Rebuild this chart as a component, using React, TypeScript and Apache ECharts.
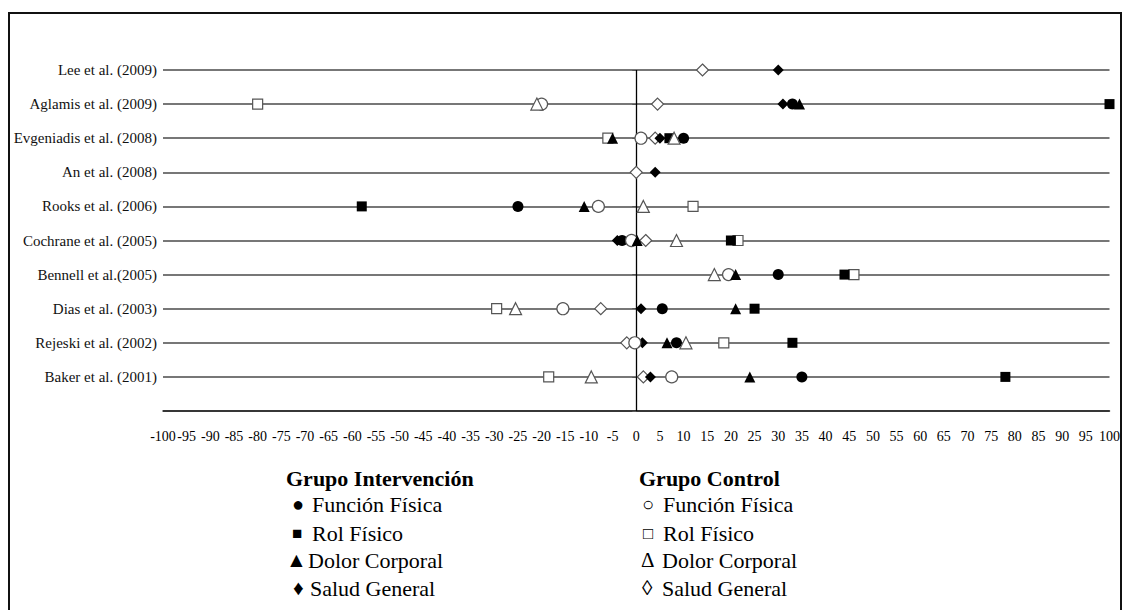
import React, { useEffect, useRef } from "react";
import * as echarts from "echarts";

// Studies, top to bottom
const studies = [
  "Lee et al. (2009)",
  "Aglamis et al. (2009)",
  "Evgeniadis et al. (2008)",
  "An et al. (2008)",
  "Rooks et al. (2006)",
  "Cochrane et al. (2005)",
  "Bennell et al.(2005)",
  "Dias et al. (2003)",
  "Rejeski et al. (2002)",
  "Baker et al. (2001)",
];

// Grupo Intervención (filled markers)
const intFuncionFisica = [null, 33, 10, null, -25, -3, 30, 5.5, 8.5, 35];
const intRolFisico = [null, 100, 7, null, -58, 20, 44, 25, 33, 78];
const intDolorCorporal = [null, 34.5, -5, null, -11, 0.2, 21, 21, 6.5, 24];
const intSaludGeneral = [30, 31, 5, 4, null, -4, null, 1, 1.3, 3];

// Grupo Control (open markers)
const ctlFuncionFisica = [null, -20, 1, null, -8, -1, 19.5, -15.5, -0.3, 7.5];
const ctlRolFisico = [null, -80, -6, null, 12, 21.5, 46, -29.5, 18.5, -18.5];
const ctlDolorCorporal = [null, -21, 8, null, 1.5, 8.5, 16.5, -25.5, 10.5, -9.5];
const ctlSaludGeneral = [14, 4.5, 4, 0, null, 2, null, -7.5, -2, 1.5];

// Legend texts
const legendIntTitle = "Grupo Intervención";
const legendCtlTitle = "Grupo Control";
const legendLabels = ["Función Física", "Rol Físico", "Dolor Corporal", "Salud General"];
const legendIntGlyphs = ["●", "■", "▲", "♦"];
const legendCtlGlyphs = ["○", "□", "Δ", "◊"];

const SERIF = "'Liberation Serif', 'Times New Roman', Times, serif";

function toPoints(values: (number | null)[]) {
  const n = studies.length;
  const out: [number, number][] = [];
  values.forEach((v, i) => {
    if (v !== null && v !== undefined) out.push([v, n - i]);
  });
  return out;
}

export default function App() {
  const ref = useRef<HTMLDivElement>(null);

  useEffect(() => {
    if (!ref.current) return;
    const chart = echarts.init(ref.current, undefined, { renderer: "svg" });

    const filled = (name: string, values: (number | null)[], symbol: string, size: number) => ({
      name,
      type: "scatter",
      data: toPoints(values),
      symbol,
      symbolSize: size,
      itemStyle: { color: "#000", opacity: 1 },
      emphasis: { disabled: true },
      z: 3,
    });
    const hollow = (name: string, values: (number | null)[], symbol: string, size: number) => ({
      name,
      type: "scatter",
      data: toPoints(values),
      symbol,
      symbolSize: size,
      itemStyle: { color: "#fff", borderColor: "#555", borderWidth: 1.2, opacity: 1 },
      emphasis: { disabled: true },
      z: 3,
    });

    const txt = (x: number, y: number, text: string, size: number, weight = "normal") => ({
      type: "text",
      x,
      y,
      silent: true,
      style: {
        text,
        fontFamily: SERIF,
        fontSize: size,
        fontWeight: weight,
        fill: "#000",
        verticalAlign: "middle",
      },
    });

    const itemY = [504, 533, 560, 588];
    const intGlyphX = [292, 292, 286, 293];
    const intTextX = [312, 312, 308, 310];
    const ctlGlyphX = [642, 643, 641, 642];
    const ctlTextX = [663, 663, 662, 662];
    const glyphSize = [20, 17, 21, 21];

    const graphics: any[] = [
      {
        type: "rect",
        shape: { x: 9, y: 13, width: 1112, height: 700 },
        style: { fill: "none", stroke: "#111", lineWidth: 2 },
        silent: true,
      },
      txt(286, 478, legendIntTitle, 22, "bold"),
      txt(639, 478, legendCtlTitle, 22, "bold"),
    ];
    legendLabels.forEach((lab, i) => {
      graphics.push(txt(intGlyphX[i], itemY[i], legendIntGlyphs[i], glyphSize[i]));
      graphics.push(txt(intTextX[i], itemY[i], lab, 22));
      graphics.push(txt(ctlGlyphX[i], itemY[i], legendCtlGlyphs[i], glyphSize[i]));
      graphics.push(txt(ctlTextX[i], itemY[i], lab, 22));
    });

    const n = studies.length;

    chart.setOption({
      animation: false,
      backgroundColor: "#fff",
      textStyle: { fontFamily: SERIF },
      grid: { left: 163, right: 11, top: 70, bottom: 199, containLabel: false },
      xAxis: {
        type: "value",
        min: -100,
        max: 100,
        interval: 5,
        axisLine: { show: true, onZero: false, lineStyle: { color: "#222", width: 1.5 } },
        axisTick: { show: false },
        splitLine: { show: false },
        axisLabel: {
          interval: 0,
          margin: 18,
          color: "#000",
          fontFamily: SERIF,
          fontSize: 14,
          showMinLabel: true,
          showMaxLabel: true,
        },
      },
      yAxis: {
        type: "value",
        min: 0,
        max: n,
        interval: 1,
        axisLine: { show: false },
        axisTick: { show: true, length: 4, lineStyle: { color: "#555" } },
        splitLine: { show: true, lineStyle: { color: "#4a4a4a", width: 1.5 } },
        axisLabel: {
          margin: 6,
          color: "#111",
          fontFamily: SERIF,
          fontSize: 15,
          formatter: (v: number) => (v >= 1 && v <= n ? studies[n - v] : ""),
        },
      },
      graphic: graphics,
      series: [
        {
          ...hollow("Salud General (Control)", ctlSaludGeneral, "diamond", 12),
          markLine: {
            silent: true,
            symbol: "none",
            label: { show: false },
            lineStyle: { color: "#000", width: 1.3, type: "solid" },
            data: [{ xAxis: 0 }],
            z: 2,
          },
        },
        filled("Salud General (Intervención)", intSaludGeneral, "diamond", 11),
        filled("Función Física (Intervención)", intFuncionFisica, "circle", 11),
        hollow("Función Física (Control)", ctlFuncionFisica, "circle", 12),
        hollow("Rol Físico (Control)", ctlRolFisico, "rect", 10),
        filled("Rol Físico (Intervención)", intRolFisico, "rect", 10),
        filled("Dolor Corporal (Intervención)", intDolorCorporal, "triangle", 11),
        hollow("Dolor Corporal (Control)", ctlDolorCorporal, "triangle", 12),
      ],
    });

    return () => chart.dispose();
  }, []);

  return (
    <div
      ref={ref}
      style={{ position: "fixed", left: 0, top: 0, width: 1123, height: 610, background: "#fff" }}
    />
  );
}
